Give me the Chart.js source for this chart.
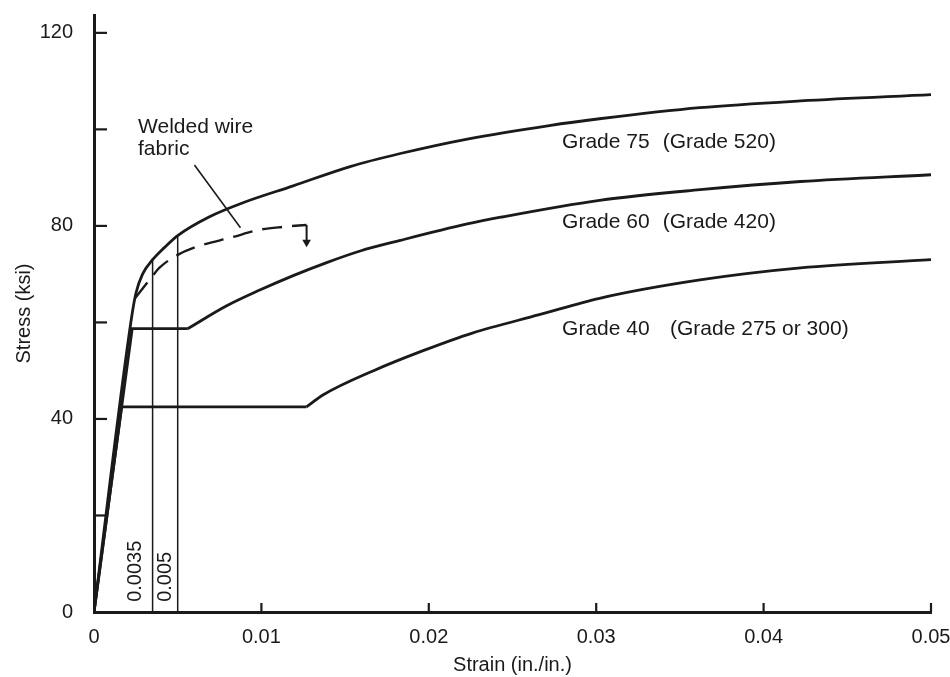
<!DOCTYPE html>
<html>
<head>
<meta charset="utf-8">
<script src="https://cdn.jsdelivr.net/npm/chart.js@4.4.1/dist/chart.umd.min.js"></script>
<style>
  html, body { margin: 0; padding: 0; background: #fff; }
  #wrap { width: 950px; height: 677px; }
</style>
</head>
<body>
<div id="wrap"><canvas id="chart"></canvas></div>
<script>
// axis ticks
var strainTicks = [0, 0.01, 0.02, 0.03, 0.04, 0.05];
var strainTickLabels = ['0', '0.01', '0.02', '0.03', '0.04', '0.05'];
var stressTicks = [0, 20, 40, 60, 80, 100, 120];
var stressTickLabels = ['0', '', '40', '', '80', '', '120'];

// Grade 40: elastic + yield plateau, then strain hardening
var g40PlateauStrain = [0, 0.00165, 0.0127];
var g40PlateauStress = [0, 42.5, 42.5];
var g40HardStrain = [0.0127, 0.0137, 0.0167, 0.0197, 0.0226, 0.0266, 0.0302, 0.0362, 0.0422, 0.05];
var g40HardStress = [42.5, 45.0, 50.0, 54.2, 57.8, 61.6, 65.0, 68.8, 71.3, 73.0];

// Grade 60
var g60PlateauStrain = [0, 0.00228, 0.0056];
var g60PlateauStress = [0, 58.7, 58.7];
var g60HardStrain = [0.0056, 0.0079, 0.0099, 0.0119, 0.0139, 0.0159, 0.0183, 0.0223, 0.0243, 0.0302, 0.0362, 0.0422, 0.05];
var g60HardStress = [58.7, 63.4, 66.7, 69.7, 72.4, 74.8, 77.0, 80.4, 81.8, 85.3, 87.5, 89.2, 90.6];

// Grade 75 (no plateau)
var g75Strain = [0, 0.0022, 0.0025, 0.0029, 0.0035, 0.0042, 0.005, 0.0069, 0.0089, 0.0119, 0.0153, 0.0183, 0.0223, 0.0272, 0.0302, 0.0362, 0.0422, 0.05];
var g75Stress = [0, 60.0, 66.0, 70.0, 73.0, 75.5, 78.0, 81.9, 84.8, 88.3, 92.3, 95.0, 98.0, 100.8, 102.2, 104.5, 105.9, 107.2];

// welded wire fabric (dashed) and its end arrow
var wwfStrain = [0.00245, 0.0034, 0.0039, 0.005, 0.0059, 0.0083, 0.0099, 0.0113, 0.0127];
var wwfStress = [65.0, 69.2, 71.3, 74.0, 75.4, 77.7, 79.2, 79.8, 80.2];
var arrowStrain = [0.0127, 0.0127];
var arrowStress = [80.2, 76.6];

// reference strains 0.0035 and 0.005
var refStrains = [0.0035, 0.005];
var refTopStress = [73.0, 78.0];

// leader from the "Welded wire fabric" label
var leaderStrain = [0.0060, 0.00875];
var leaderStress = [92.6, 79.6];

var INK = '#1a1a1a';
var FONT = '"Liberation Sans", Arial, sans-serif';

function pts(xs, ys) {
  return xs.map(function (x, i) { return { x: x, y: ys[i] }; });
}

function lineSet(data, extra) {
  var base = {
    data: data, borderColor: INK, backgroundColor: INK, borderWidth: 2.8,
    pointRadius: 0, fill: false, tension: 0
  };
  return Object.assign(base, extra || {});
}

var datasets = [
  lineSet(pts(g40PlateauStrain, g40PlateauStress)),
  lineSet(pts(g40HardStrain, g40HardStress), { cubicInterpolationMode: 'monotone' }),
  lineSet(pts(g60PlateauStrain, g60PlateauStress)),
  lineSet(pts(g60HardStrain, g60HardStress), { cubicInterpolationMode: 'monotone' }),
  lineSet(pts(g75Strain, g75Stress), { cubicInterpolationMode: 'monotone' }),
  lineSet(pts(wwfStrain, wwfStress), { cubicInterpolationMode: 'monotone', borderDash: [20, 10], borderWidth: 2.4 }),
  lineSet(pts(arrowStrain, arrowStress), {
    borderWidth: 2,
    pointRadius: [0, 5], pointStyle: 'triangle', pointRotation: 180,
    pointBorderWidth: 0
  }),
  lineSet(pts([refStrains[0], refStrains[0]], [0, refTopStress[0]]), { borderWidth: 1.5 }),
  lineSet(pts([refStrains[1], refStrains[1]], [0, refTopStress[1]]), { borderWidth: 1.5 }),
  lineSet(pts(leaderStrain, leaderStress), { borderWidth: 1.6 })
];

// text notes placed in data units
var notes = [
  { text: 'Welded wire', x: 0.00263, y: 100.4 },
  { text: 'fabric', x: 0.00263, y: 95.8 },
  { text: 'Grade 75', x: 0.02796, y: 97.3 },
  { text: '(Grade 520)', x: 0.03397, y: 97.3 },
  { text: 'Grade 60', x: 0.02796, y: 80.7 },
  { text: '(Grade 420)', x: 0.03397, y: 80.7 },
  { text: 'Grade 40', x: 0.02796, y: 58.65 },
  { text: '(Grade 275 or 300)', x: 0.03441, y: 58.65 }
];
var rotNotes = [
  { text: '0.0035', x: 0.00245, y: 2.1 },
  { text: '0.005', x: 0.0043, y: 2.1 }
];

var decor = {
  id: 'decor',
  afterDraw: function (chart) {
    var ctx = chart.ctx, xs = chart.scales.x, ys = chart.scales.y, a = chart.chartArea;
    ctx.save();
    ctx.strokeStyle = INK;
    ctx.lineWidth = 2.2;
    // inward tick marks
    strainTicks.forEach(function (v) {
      if (v === 0) return;
      var px = xs.getPixelForValue(v);
      ctx.beginPath(); ctx.moveTo(px, a.bottom); ctx.lineTo(px, a.bottom - 9); ctx.stroke();
    });
    stressTicks.forEach(function (v) {
      if (v === 0) return;
      var py = ys.getPixelForValue(v);
      ctx.beginPath(); ctx.moveTo(a.left, py); ctx.lineTo(a.left + 13, py); ctx.stroke();
    });
    ctx.fillStyle = INK;
    ctx.font = '21px ' + FONT;
    ctx.textAlign = 'left';
    ctx.textBaseline = 'middle';
    notes.forEach(function (n) {
      ctx.fillText(n.text, xs.getPixelForValue(n.x), ys.getPixelForValue(n.y));
    });
    ctx.font = '20px ' + FONT;
    rotNotes.forEach(function (n) {
      ctx.save();
      ctx.translate(xs.getPixelForValue(n.x), ys.getPixelForValue(n.y));
      ctx.rotate(-Math.PI / 2);
      ctx.fillText(n.text, 0, 0);
      ctx.restore();
    });
    ctx.restore();
  }
};

new Chart(document.getElementById('chart'), {
  type: 'line',
  data: { datasets: datasets },
  options: {
    responsive: true,
    maintainAspectRatio: false,
    animation: false,
    layout: { padding: { left: 0, right: 19, top: 15, bottom: 0 } },
    plugins: { legend: { display: false }, tooltip: { enabled: false } },
    scales: {
      x: {
        type: 'linear', min: 0, max: 0.05,
        afterBuildTicks: function (axis) { axis.ticks = strainTicks.map(function (v) { return { value: v }; }); },
        afterFit: function (scale) { scale.height = 65; scale.paddingLeft = 0; scale.paddingRight = 0; },
        grid: { display: false },
        border: { display: true, color: INK, width: 3 },
        ticks: {
          color: INK, padding: 5, maxRotation: 0, autoSkip: false,
          font: { family: FONT, size: 20 },
          callback: function (v, i) { return strainTickLabels[i]; }
        },
        title: { display: true, text: 'Strain (in./in.)', color: INK, font: { family: FONT, size: 20 }, padding: { top: 0, bottom: 0 } }
      },
      y: {
        type: 'linear', min: 0, max: 123.7,
        afterBuildTicks: function (axis) { axis.ticks = stressTicks.map(function (v) { return { value: v }; }); },
        afterFit: function (scale) { scale.width = 94; scale.paddingTop = 0; scale.paddingBottom = 0; },
        grid: { display: false },
        border: { display: true, color: INK, width: 3 },
        ticks: {
          color: INK, padding: 13, autoSkip: false,
          font: { family: FONT, size: 20 },
          callback: function (v, i) { return stressTickLabels[i]; }
        },
        title: { display: true, text: 'Stress (ksi)', color: INK, font: { family: FONT, size: 20 }, padding: { top: 12, bottom: 0 } }
      }
    }
  },
  plugins: [decor]
});
</script>
</body>
</html>
